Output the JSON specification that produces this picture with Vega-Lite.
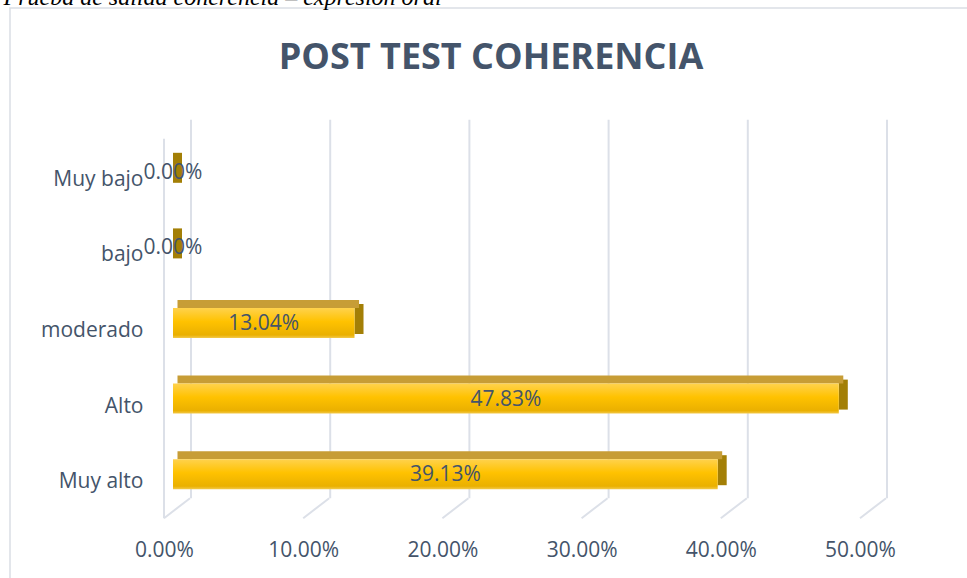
{
  "$schema": "https://vega.github.io/schema/vega-lite/v6.json",
  "autosize": {"type": "none"},
  "padding": {"left": 10, "top": 8, "right": 0, "bottom": 0},
  "width": 962,
  "height": 575,
  "background": "white",
  "config": {
    "view": {"stroke": "#DADEE5", "strokeWidth": 1.5},
    "font": "Open Sans"
  },
  "title": {
    "text": "POST TEST COHERENCIA",
    "anchor": "middle",
    "frame": "group",
    "orient": "top",
    "baseline": "alphabetic",
    "offset": 0,
    "dy": 120,
    "fontSize": 36,
    "fontWeight": "bold",
    "font": "Open Sans",
    "color": "#44546A"
  },
  "datasets": {
    "bars": [
      {"cat": "Muy bajo", "v": 0},
      {"cat": "bajo", "v": 0},
      {"cat": "moderado", "v": 0.1304},
      {"cat": "Alto", "v": 0.4783},
      {"cat": "Muy alto", "v": 0.3913}
    ],
    "grid": [
      {"g": 0}, {"g": 0.1}, {"g": 0.2}, {"g": 0.3}, {"g": 0.4}, {"g": 0.5}
    ],
    "wall": [{"g": 0}]
  },
  "resolve": {"scale": {"x": "independent"}, "axis": {"x": "independent"}},
  "layer": [
    {
      "layer": [
        {
          "data": {"name": "grid"},
          "mark": {"type": "rule", "color": "#DCE0E8", "strokeWidth": 2, "xOffset": 18, "yOffset": -52, "y2Offset": 24},
          "encoding": {
            "x": {
              "field": "g", "type": "quantitative",
              "scale": {"domain": [0, 0.5], "range": [163, 859], "nice": false, "zero": true},
              "axis": {
                "values": [0, 0.1, 0.2, 0.3, 0.4, 0.5],
                "format": ".2%",
                "orient": "bottom",
                "offset": -71,
                "grid": false, "ticks": false, "domain": false,
                "labelFlush": false,
                "labelOverlap": false,
                "labelPadding": 27,
                "labelOffset": -9,
                "labelFontSize": 21,
                "labelFont": "Open Sans",
                "labelColor": "#44546A",
                "title": null
              }
            },
            "y": {
              "datum": "Muy bajo", "type": "nominal",
              "scale": {"type": "band", "domain": ["Muy bajo", "bajo", "moderado", "Alto", "Muy alto"], "range": [126, 504], "paddingInner": 0, "paddingOuter": 0},
              "axis": {
                "offset": -163,
                "grid": false, "ticks": false, "domain": false,
                "labelPadding": 30,
                "labelOffset": 8,
                "labelFontSize": 21,
                "labelFont": "Open Sans",
                "labelColor": "#44546A",
                "title": "Prueba de salida coherencia – expresión oral",
                "titleAngle": 0,
                "titleX": -170,
                "titleY": -4,
                "titleAlign": "left",
                "titleBaseline": "alphabetic",
                "titleFont": "Liberation Serif",
                "titleFontStyle": "italic",
                "titleFontWeight": "normal",
                "titleFontSize": 24,
                "titleColor": "#000000"
              }
            },
            "y2": {"datum": "Muy alto"}
          }
        },
        {
          "data": {"name": "wall"},
          "mark": {"type": "rule", "color": "#DCE0E8", "strokeWidth": 2, "xOffset": -9, "yOffset": -33, "y2Offset": 44},
          "encoding": {
            "x": {"field": "g", "type": "quantitative"},
            "y": {"datum": "Muy bajo", "type": "nominal"},
            "y2": {"datum": "Muy alto"}
          }
        },
        {
          "data": {"name": "grid"},
          "mark": {"type": "rule", "color": "#DCE0E8", "strokeWidth": 2, "xOffset": -9, "x2Offset": 17, "yOffset": 44, "y2Offset": 24},
          "encoding": {
            "x": {"field": "g", "type": "quantitative"},
            "x2": {"field": "g"},
            "y": {"datum": "Muy alto", "type": "nominal"},
            "y2": {"datum": "Muy alto"}
          }
        },
        {
          "data": {"name": "bars"},
          "mark": {"type": "bar", "color": "#A37F06", "size": 30, "yOffset": -4, "x2Offset": 9},
          "encoding": {
            "x": {"field": "v", "type": "quantitative"},
            "x2": {"field": "v"},
            "y": {"field": "cat", "type": "nominal"}
          }
        },
        {
          "data": {"name": "bars"},
          "mark": {"type": "bar", "color": "#C79D36", "size": 8, "yOffset": -19, "xOffset": 4.5, "x2Offset": 4.5},
          "encoding": {
            "x": {"field": "v", "type": "quantitative"},
            "x2": {"datum": 0},
            "y": {"field": "cat", "type": "nominal"}
          }
        },
        {
          "data": {"name": "bars"},
          "mark": {
            "type": "bar", "size": 30,
            "color": {
              "gradient": "linear", "x1": 0, "y1": 0, "x2": 0, "y2": 1,
              "stops": [
                {"offset": 0, "color": "#FFD24D"},
                {"offset": 0.45, "color": "#FFC200"},
                {"offset": 0.9, "color": "#EAB000"},
                {"offset": 1, "color": "#F3C94A"}
              ]
            }
          },
          "encoding": {
            "x": {"field": "v", "type": "quantitative"},
            "y": {"field": "cat", "type": "nominal"}
          }
        }
      ]
    },
    {
      "data": {"name": "bars"},
      "mark": {"type": "text", "fontSize": 21, "font": "Open Sans", "color": "#44546A", "baseline": "middle", "align": "center", "dy": 1},
      "encoding": {
        "x": {"field": "v", "type": "quantitative", "scale": {"domain": [0, 1], "range": [163, 859], "nice": false}, "axis": null},
        "y": {"field": "cat", "type": "nominal"},
        "text": {"field": "v", "type": "quantitative", "format": ".2%"}
      }
    }
  ]
}
